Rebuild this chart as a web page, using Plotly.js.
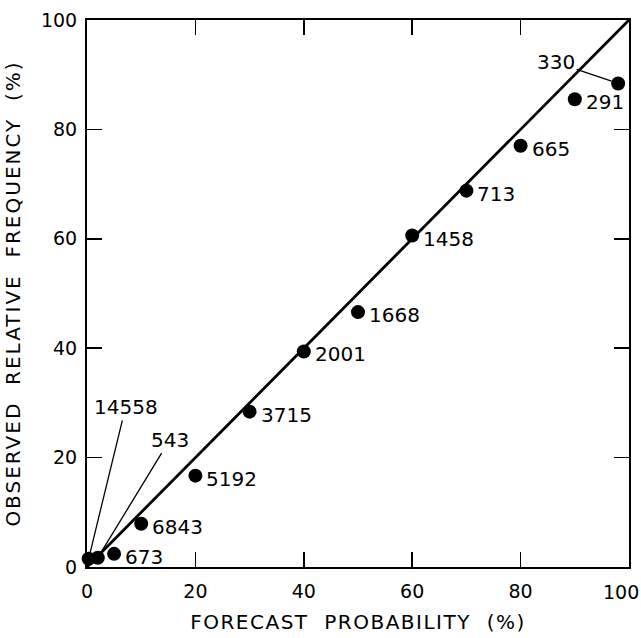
<!DOCTYPE html>
<html>
<head>
<meta charset="utf-8">
<script src="https://cdn.plot.ly/plotly-3.0.1.min.js"></script>
<style>
html,body{margin:0;padding:0;background:#fff;}
#chart{width:641px;height:638px;}
.g-xtitle text{letter-spacing:1.5px;}
.g-ytitle text{letter-spacing:2px;}
</style>
</head>
<body>
<div id="chart"></div>
<script>
// Forecast probability (%) for each category
const forecastProb = [0.3, 2, 5, 10, 20, 30, 40, 50, 60, 70, 80, 90, 98];
// Observed relative frequency (%)
const observedFreq = [1.5, 1.7, 2.4, 7.9, 16.7, 28.4, 39.4, 46.6, 60.6, 68.8, 77.0, 85.5, 88.4];
// Number of forecasts in each category
const counts = ["14558", "543", "673", "6843", "5192", "3715", "2001", "1668", "1458", "713", "665", "291", "330"];
// Perfect reliability line
const diagX = [0, 100];
const diagY = [0, 100];
const tickVals = [0, 20, 40, 60, 80, 100];
const yTickText = ["0", "20", "40", "60", "80", "100"];
// the last x label sits at the page edge and is drawn as a right-anchored note
const xTickText = ["0", "20", "40", "60", "80", ""];
const xEdgeLabel = "100";

// label offsets (pixels) for annotation placement
const leader = { "14558": [37, -152], "543": [72, -118], "330": [-62, -21] };

const FONT = "DejaVu Sans, sans-serif";

const annotations = counts.map((c, i) => {
  if (leader[c]) {
    return {
      x: forecastProb[i], y: observedFreq[i], xref: 'x', yref: 'y',
      text: c, showarrow: true, arrowhead: 0, arrowwidth: 1.3, arrowcolor: '#000',
      ax: leader[c][0], ay: leader[c][1], standoff: c === "330" ? 7 : 0,
      font: { family: FONT, size: 20, color: '#000' }
    };
  }
  return {
    x: forecastProb[i], y: observedFreq[i], xref: 'x', yref: 'y',
    text: c, showarrow: false, xanchor: 'left', yanchor: 'middle',
    xshift: 9, yshift: -3,
    font: { family: FONT, size: 20, color: '#000' }
  };
});
annotations.push({
  x: 1, xref: 'paper', y: 0, yref: 'paper', text: xEdgeLabel, showarrow: false,
  xanchor: 'right', yanchor: 'top', yshift: -12, xshift: 12,
  font: { family: FONT, size: 19, color: '#000' }
});

const traces = [
  { x: diagX, y: diagY, mode: 'lines', line: { color: '#000', width: 2.8 }, hoverinfo: 'skip', cliponaxis: false },
  { x: forecastProb, y: observedFreq, mode: 'markers', marker: { color: '#000', size: 14 }, cliponaxis: false }
];

const axisCommon = {
  range: [0, 100], tickvals: tickVals, ticks: 'inside', ticklen: 15, tickwidth: 1.5, tickcolor: '#000',
  showline: true, linecolor: '#000', linewidth: 2, mirror: 'ticks', showgrid: false, zeroline: false,
  ticklabeloverflow: 'allow',
  tickfont: { family: FONT, size: 19, color: '#000' }, fixedrange: true
};

const layout = {
  width: 641, height: 638,
  margin: { l: 87, r: 12, t: 20, b: 71 },
  paper_bgcolor: '#fff', plot_bgcolor: '#fff',
  showlegend: false,
  xaxis: Object.assign({}, axisCommon, {
    ticktext: xTickText,
    ticklabelstandoff: 6,
    title: { text: 'FORECAST  PROBABILITY  (%)', font: { family: FONT, size: 20, color: '#000' }, standoff: 14 }
  }),
  yaxis: Object.assign({}, axisCommon, {
    ticktext: yTickText,
    ticklabelstandoff: 4,
    title: { text: 'OBSERVED  RELATIVE  FREQUENCY  (%)', font: { family: FONT, size: 20, color: '#000' }, standoff: 15 }
  }),
  annotations: annotations
};

Plotly.newPlot('chart', traces, layout, { staticPlot: true, displayModeBar: false });
</script>
</body>
</html>
